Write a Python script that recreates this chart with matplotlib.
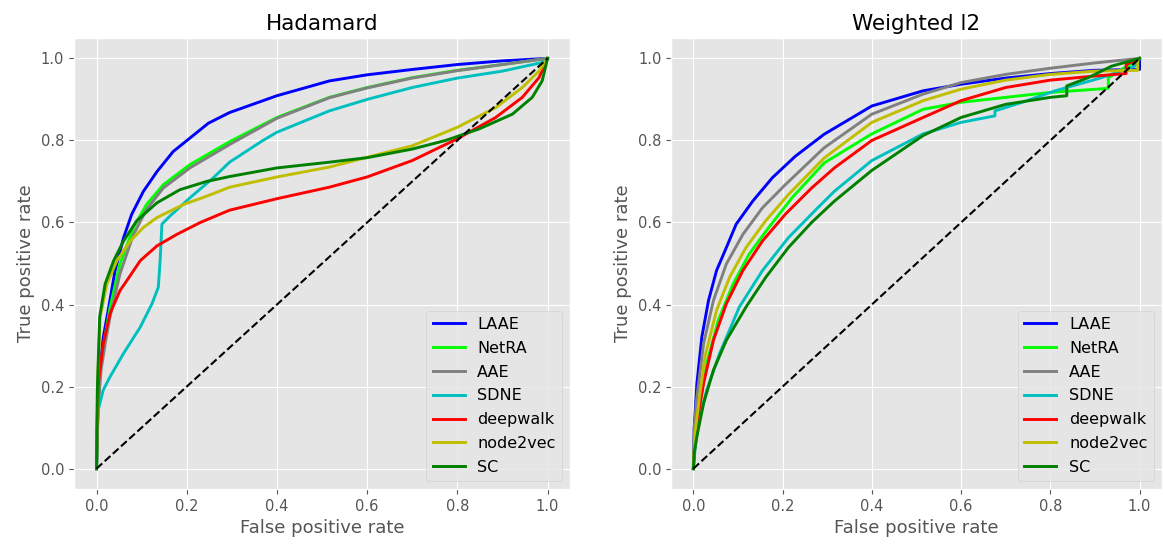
import numpy as np
import matplotlib
matplotlib.use('Agg')
import matplotlib.pyplot as plt

# ROC curves: (fpr, tpr) pairs
methods = ['LAAE', 'NetRA', 'AAE', 'SDNE', 'deepwalk', 'node2vec', 'SC']
colors = ['b', 'lime', 'grey', 'c', 'r', 'y', 'g']

# ---- Hadamard ----
had_laae_x = [0, 0.003, 0.008, 0.015, 0.027, 0.041, 0.06, 0.078, 0.104, 0.134, 0.17, 0.248, 0.295, 0.40, 0.516, 0.60, 0.70, 0.80, 0.90, 1.0]
had_laae_y = [0, 0.15, 0.25, 0.32, 0.393, 0.482, 0.563, 0.62, 0.676, 0.724, 0.773, 0.842, 0.868, 0.909, 0.945, 0.96, 0.973, 0.985, 0.994, 1.0]
had_netra_x = [0, 0.003, 0.01, 0.02, 0.030, 0.052, 0.082, 0.111, 0.148, 0.207, 0.295, 0.40, 0.516, 0.60, 0.70, 0.80, 0.90, 1.0]
had_netra_y = [0, 0.15, 0.26, 0.33, 0.393, 0.499, 0.588, 0.644, 0.692, 0.741, 0.797, 0.856, 0.905, 0.929, 0.953, 0.971, 0.985, 1.0]
had_aae_x = [0, 0.003, 0.01, 0.02, 0.030, 0.052, 0.082, 0.111, 0.148, 0.207, 0.295, 0.40, 0.516, 0.60, 0.70, 0.80, 0.90, 1.0]
had_aae_y = [0, 0.14, 0.24, 0.31, 0.37, 0.475, 0.571, 0.632, 0.684, 0.733, 0.79, 0.854, 0.904, 0.928, 0.952, 0.97, 0.985, 1.0]
had_sdne_x = [0, 0.001, 0.004, 0.015, 0.030, 0.060, 0.097, 0.123, 0.137, 0.141, 0.145, 0.163, 0.207, 0.259, 0.295, 0.369, 0.40, 0.516, 0.60, 0.70, 0.80, 0.90, 0.988, 1.0]
had_sdne_y = [0, 0.06, 0.144, 0.192, 0.224, 0.281, 0.345, 0.402, 0.442, 0.507, 0.596, 0.616, 0.66, 0.709, 0.747, 0.80, 0.82, 0.872, 0.9, 0.929, 0.952, 0.969, 0.99, 1.0]
had_deepwalk_x = [0, 0.001, 0.004, 0.015, 0.030, 0.052, 0.067, 0.097, 0.134, 0.178, 0.23, 0.295, 0.40, 0.516, 0.60, 0.70, 0.80, 0.885, 0.944, 0.981, 1.0]
had_deepwalk_y = [0, 0.10, 0.208, 0.305, 0.378, 0.434, 0.458, 0.507, 0.543, 0.571, 0.60, 0.63, 0.658, 0.686, 0.711, 0.751, 0.804, 0.856, 0.905, 0.953, 1.0]
had_node2vec_x = [0, 0.002, 0.008, 0.023, 0.045, 0.075, 0.104, 0.134, 0.193, 0.244, 0.295, 0.40, 0.516, 0.60, 0.70, 0.80, 0.885, 0.944, 0.981, 1.0]
had_node2vec_y = [0, 0.2, 0.37, 0.45, 0.507, 0.555, 0.588, 0.612, 0.644, 0.664, 0.686, 0.711, 0.735, 0.759, 0.787, 0.832, 0.88, 0.929, 0.969, 1.0]
had_sc_x = [0, 0.002, 0.007, 0.019, 0.038, 0.060, 0.089, 0.134, 0.185, 0.244, 0.295, 0.40, 0.516, 0.60, 0.70, 0.774, 0.848, 0.922, 0.966, 0.988, 1.0]
had_sc_y = [0, 0.2, 0.37, 0.45, 0.507, 0.555, 0.604, 0.648, 0.68, 0.70, 0.712, 0.733, 0.747, 0.758, 0.779, 0.80, 0.828, 0.864, 0.905, 0.945, 1.0]

# ---- Weighted l2 ----
wl2_laae_x = [0, 0.002, 0.008, 0.019, 0.034, 0.052, 0.074, 0.096, 0.133, 0.177, 0.228, 0.293, 0.40, 0.515, 0.60, 0.70, 0.80, 0.90, 1.0, 1.0]
wl2_laae_y = [0, 0.1, 0.208, 0.321, 0.41, 0.483, 0.539, 0.596, 0.652, 0.709, 0.761, 0.815, 0.884, 0.921, 0.937, 0.952, 0.963, 0.971, 0.973, 1.0]
wl2_netra_x = [0, 0.004, 0.012, 0.030, 0.056, 0.089, 0.125, 0.169, 0.221, 0.293, 0.40, 0.515, 0.60, 0.70, 0.80, 0.93, 0.93, 1.0]
wl2_netra_y = [0, 0.06, 0.144, 0.257, 0.362, 0.45, 0.523, 0.588, 0.66, 0.745, 0.816, 0.876, 0.893, 0.905, 0.917, 0.927, 0.953, 1.0]
wl2_aae_x = [0, 0.002, 0.008, 0.023, 0.045, 0.074, 0.111, 0.155, 0.206, 0.293, 0.40, 0.515, 0.60, 0.70, 0.80, 0.90, 1.0]
wl2_aae_y = [0, 0.1, 0.176, 0.305, 0.41, 0.499, 0.571, 0.636, 0.692, 0.782, 0.864, 0.913, 0.941, 0.961, 0.976, 0.989, 1.0]
wl2_sdne_x = [0, 0.004, 0.012, 0.030, 0.059, 0.103, 0.155, 0.213, 0.279, 0.316, 0.40, 0.515, 0.60, 0.676, 0.676, 0.737, 0.811, 0.915, 0.989, 1.0]
wl2_sdne_y = [0, 0.05, 0.111, 0.192, 0.281, 0.394, 0.483, 0.563, 0.636, 0.676, 0.751, 0.816, 0.844, 0.86, 0.872, 0.893, 0.921, 0.953, 0.981, 1.0]
wl2_deepwalk_x = [0, 0.003, 0.008, 0.023, 0.045, 0.074, 0.111, 0.155, 0.206, 0.265, 0.316, 0.40, 0.515, 0.60, 0.70, 0.80, 0.90, 0.97, 0.97, 1.0]
wl2_deepwalk_y = [0, 0.05, 0.111, 0.208, 0.313, 0.402, 0.483, 0.555, 0.62, 0.684, 0.733, 0.80, 0.856, 0.897, 0.929, 0.947, 0.957, 0.963, 0.985, 1.0]
wl2_node2vec_x = [0, 0.003, 0.012, 0.026, 0.052, 0.081, 0.118, 0.162, 0.213, 0.293, 0.40, 0.515, 0.60, 0.70, 0.80, 0.90, 0.996, 0.996, 1.0]
wl2_node2vec_y = [0, 0.08, 0.16, 0.273, 0.386, 0.466, 0.539, 0.604, 0.668, 0.757, 0.844, 0.897, 0.925, 0.947, 0.961, 0.969, 0.971, 1.0, 1.0]
wl2_sc_x = [0, 0.002, 0.008, 0.023, 0.045, 0.074, 0.118, 0.162, 0.213, 0.265, 0.316, 0.40, 0.515, 0.60, 0.70, 0.80, 0.837, 0.837, 0.885, 0.937, 1.0]
wl2_sc_y = [0, 0.04, 0.079, 0.16, 0.24, 0.313, 0.394, 0.466, 0.539, 0.60, 0.652, 0.727, 0.812, 0.856, 0.888, 0.905, 0.909, 0.933, 0.953, 0.981, 1.0]

hadamard = [(had_laae_x, had_laae_y), (had_netra_x, had_netra_y), (had_aae_x, had_aae_y),
            (had_sdne_x, had_sdne_y), (had_deepwalk_x, had_deepwalk_y),
            (had_node2vec_x, had_node2vec_y), (had_sc_x, had_sc_y)]
weighted = [(wl2_laae_x, wl2_laae_y), (wl2_netra_x, wl2_netra_y), (wl2_aae_x, wl2_aae_y),
            (wl2_sdne_x, wl2_sdne_y), (wl2_deepwalk_x, wl2_deepwalk_y),
            (wl2_node2vec_x, wl2_node2vec_y), (wl2_sc_x, wl2_sc_y)]

plt.style.use('ggplot')
fig = plt.figure(figsize=(11.63, 5.49), dpi=100)
ax1 = fig.add_axes([0.0636, 0.109, 0.4266, 0.822])
ax2 = fig.add_axes([0.577, 0.109, 0.422, 0.822])

for ax, curves, title in [(ax1, hadamard, 'Hadamard'), (ax2, weighted, 'Weighted l2')]:
    for (x, y), name, c in zip(curves, methods, colors):
        ax.plot(x, y, color=c, lw=2.1, label=name)
    ax.plot([0, 1], [0, 1], 'k--', lw=1.5)
    ax.set_title(title, fontsize=15.5, color='black')
    ax.set_xlabel('False positive rate', fontsize=13)
    ax.set_ylabel('True positive rate', fontsize=13)
    ax.tick_params(labelsize=10.5)
    ax.set_xticks([0, 0.2, 0.4, 0.6, 0.8, 1.0])
    ax.set_yticks([0, 0.2, 0.4, 0.6, 0.8, 1.0])
    ax.legend(loc='lower right', fontsize=11.5, labelspacing=0.55)

fig.savefig('out.png', dpi=100)
